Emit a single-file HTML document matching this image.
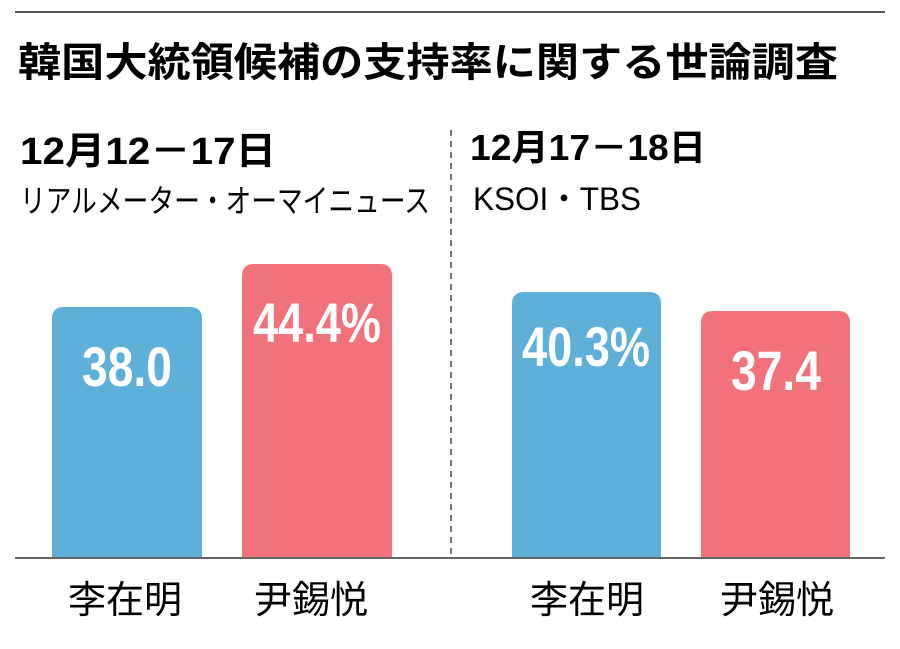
<!DOCTYPE html>
<html><head><meta charset="utf-8"><style>
html,body{margin:0;padding:0;background:#fff;}
svg{display:block}
</style></head><body>
<svg width="900" height="649" viewBox="0 0 900 649" xmlns="http://www.w3.org/2000/svg">
<rect width="900" height="649" fill="#fff"/>
<line x1="15" y1="12" x2="885" y2="12" stroke="#555" stroke-width="2"/>
<line x1="451" y1="130" x2="451" y2="558" stroke="#444" stroke-width="1.5" stroke-dasharray="6,5"/>
<path d="M52 558 V319 Q52 307 64 307 H190 Q202 307 202 319 V558 Z" fill="#5eb0d8"/>
<path d="M242 558 V276 Q242 264 254 264 H380 Q392 264 392 276 V558 Z" fill="#f2727b"/>
<path d="M512 558 V304 Q512 292 524 292 H649 Q661 292 661 304 V558 Z" fill="#5eb0d8"/>
<path d="M701 558 V323 Q701 311 713 311 H838 Q850 311 850 323 V558 Z" fill="#f2727b"/>
<line x1="15" y1="558" x2="885" y2="558" stroke="#666" stroke-width="2"/>
<g font-family="Liberation Sans, sans-serif" font-weight="bold" fill="#fff" font-size="56" text-anchor="middle">
<text x="127" y="386" textLength="90" lengthAdjust="spacingAndGlyphs">38.0</text>
<text x="317" y="342" textLength="128" lengthAdjust="spacingAndGlyphs">44.4%</text>
<text x="586" y="366" textLength="128" lengthAdjust="spacingAndGlyphs">40.3%</text>
<text x="776" y="390" textLength="90" lengthAdjust="spacingAndGlyphs">37.4</text>
</g>
<g font-family="Liberation Sans, Noto Sans CJK JP, sans-serif" fill="#000">
<text x="18" y="76" font-size="40" font-weight="bold" textLength="820" lengthAdjust="spacingAndGlyphs">韓国大統領候補の支持率に関する世論調査</text>
<text x="20" y="164" font-size="38" font-weight="bold" textLength="256" lengthAdjust="spacingAndGlyphs">12月12－17日</text>
<text x="20" y="212" font-size="32" textLength="410" lengthAdjust="spacingAndGlyphs">リアルメーター・オーマイニュース</text>
<text x="470" y="160" font-size="36" font-weight="bold" textLength="236" lengthAdjust="spacingAndGlyphs">12月17－18日</text>
<text x="473" y="210" font-size="32" textLength="168" lengthAdjust="spacingAndGlyphs">KSOI・TBS</text>
<g font-size="38" text-anchor="middle">
<text x="125" y="613">李在明</text>
<text x="311" y="613">尹錫悦</text>
<text x="587" y="613">李在明</text>
<text x="777" y="613">尹錫悦</text>
</g>
</g>
</svg>
</body></html>
